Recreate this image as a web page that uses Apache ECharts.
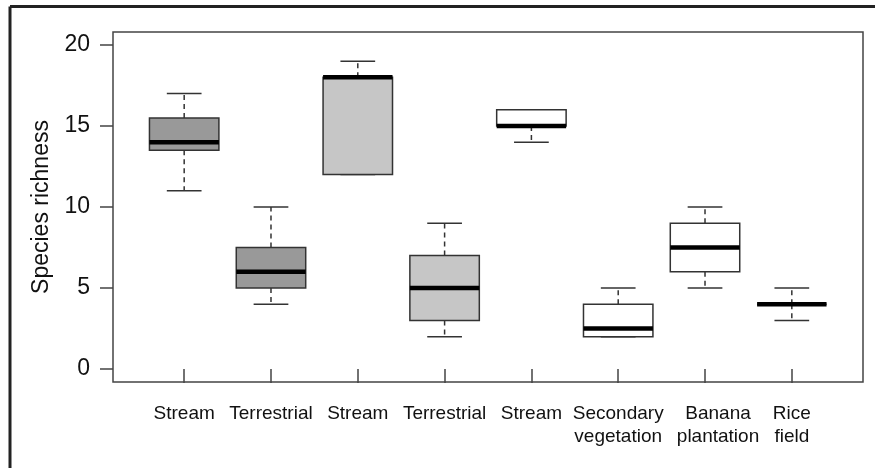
<!DOCTYPE html>
<html>
<head>
<meta charset="utf-8">
<script src="https://cdn.jsdelivr.net/npm/echarts@6/dist/echarts.min.js"></script>
<style>
  html, body { margin: 0; padding: 0; background: #fff; }
  #chart { width: 875px; height: 468px; }
</style>
</head>
<body>
<div id="chart"></div>
<script>
// Categories (x positions 1..8)
const categories = ['Stream', 'Terrestrial', 'Stream', 'Terrestrial', 'Stream',
  'Secondary\nvegetation', 'Banana\nplantation', 'Rice\nfield'];
// Five-number summaries
const mins    = [11, 4, 12, 2, 14, 2, 5, 3];
const q1s     = [13.5, 5, 12, 3, 15, 2, 6, 4];
const medians = [14, 6, 18, 5, 15, 2.5, 7.5, 4];
const q3s     = [15.5, 7.5, 18, 7, 16, 4, 9, 4];
const maxs    = [17, 10, 19, 9, 16, 5, 10, 5];
// Fill shade group per box: 0 dark grey, 1 light grey, 2 white
const shades  = [0, 0, 1, 1, 2, 2, 2, 2];
const yTicks  = [0, 5, 10, 15, 20];
const xTicks  = [1, 2, 3, 4, 5, 6, 7, 8];

const fillColors = ['#999999', '#c6c6c6', '#ffffff'];
const FONT = 'Liberation Sans, Arial, Helvetica, sans-serif';
// In the original the "Banana plantation" label sits slightly right of its tick
const SHIFTED_LABEL = 7;

const data = categories.map((c, i) => [i + 1, mins[i], q1s[i], medians[i], q3s[i], maxs[i]]);

const chart = echarts.init(document.getElementById('chart'));
chart.setOption({
  animation: false,
  backgroundColor: '#fff',
  graphic: [
    { type: 'line', shape: { x1: 10, y1: 6.5, x2: 880, y2: 6.5 }, style: { stroke: '#222', lineWidth: 3 } },
    { type: 'line', shape: { x1: 10, y1: 6.5, x2: 10, y2: 480 }, style: { stroke: '#222', lineWidth: 3 } }
  ],
  grid: {
    left: 113, right: 12, top: 32, bottom: 86,
    show: true, borderColor: '#444', borderWidth: 1.5, backgroundColor: 'transparent'
  },
  xAxis: {
    type: 'value', min: 0.18, max: 8.82,
    axisLine: { show: false },
    splitLine: { show: false },
    axisTick: { show: true, length: 14, inside: false, customValues: xTicks, lineStyle: { color: '#444', width: 1.5 } },
    axisLabel: {
      customValues: xTicks,
      margin: 20,
      color: '#111', fontSize: 19, fontFamily: FONT, lineHeight: 23,
      formatter: function (v) {
        const k = Math.round(v);
        const name = categories[k - 1] || '';
        if (k === SHIFTED_LABEL) {
          return name.split('\n').map(s => '{s|' + s + '}').join('\n');
        }
        return name;
      },
      rich: {
        s: { fontSize: 19, fontFamily: FONT, color: '#111', lineHeight: 23, padding: [0, 0, 0, 26] }
      }
    }
  },
  yAxis: {
    type: 'value', min: -0.8, max: 20.8,
    name: 'Species richness', nameLocation: 'middle', nameGap: 57,
    nameTextStyle: { color: '#111', fontSize: 23, fontFamily: FONT },
    axisLine: { show: false },
    splitLine: { show: false },
    axisTick: { show: true, length: 13, inside: false, customValues: yTicks, lineStyle: { color: '#444', width: 1.5 } },
    axisLabel: { customValues: yTicks, margin: 23, color: '#111', fontSize: 23, fontFamily: FONT }
  },
  series: [{
    type: 'custom',
    data: data,
    encode: { x: 0, y: [1, 2, 3, 4, 5] },
    renderItem: function (params, api) {
      const x = api.value(0);
      const vMin = api.value(1), vQ1 = api.value(2), vMed = api.value(3), vQ3 = api.value(4), vMax = api.value(5);
      const pMin = api.coord([x, vMin]);
      const pQ1 = api.coord([x, vQ1]);
      const pMed = api.coord([x, vMed]);
      const pQ3 = api.coord([x, vQ3]);
      const pMax = api.coord([x, vMax]);
      const half = api.size([0.4, 0])[0];
      const cap = api.size([0.2, 0])[0];
      const cx = pMed[0];
      const stroke = '#333';
      const children = [];
      if (vMax > vQ3) {
        children.push({ type: 'line', shape: { x1: cx, y1: pQ3[1], x2: cx, y2: pMax[1] },
          style: { stroke: stroke, lineWidth: 1.5, lineDash: [5, 4] } });
      }
      if (vMin < vQ1) {
        children.push({ type: 'line', shape: { x1: cx, y1: pQ1[1], x2: cx, y2: pMin[1] },
          style: { stroke: stroke, lineWidth: 1.5, lineDash: [5, 4] } });
      }
      children.push({ type: 'line', shape: { x1: cx - cap, y1: pMax[1], x2: cx + cap, y2: pMax[1] },
        style: { stroke: stroke, lineWidth: 1.5 } });
      children.push({ type: 'line', shape: { x1: cx - cap, y1: pMin[1], x2: cx + cap, y2: pMin[1] },
        style: { stroke: stroke, lineWidth: 1.5 } });
      children.push({ type: 'rect', shape: { x: cx - half, y: pQ3[1], width: 2 * half, height: pQ1[1] - pQ3[1] },
        style: { fill: fillColors[shades[params.dataIndex]], stroke: stroke, lineWidth: 1.5 } });
      children.push({ type: 'line', shape: { x1: cx - half, y1: pMed[1], x2: cx + half, y2: pMed[1] },
        style: { stroke: '#000', lineWidth: 4.5 } });
      return { type: 'group', children: children };
    }
  }]
});
</script>
</body>
</html>
